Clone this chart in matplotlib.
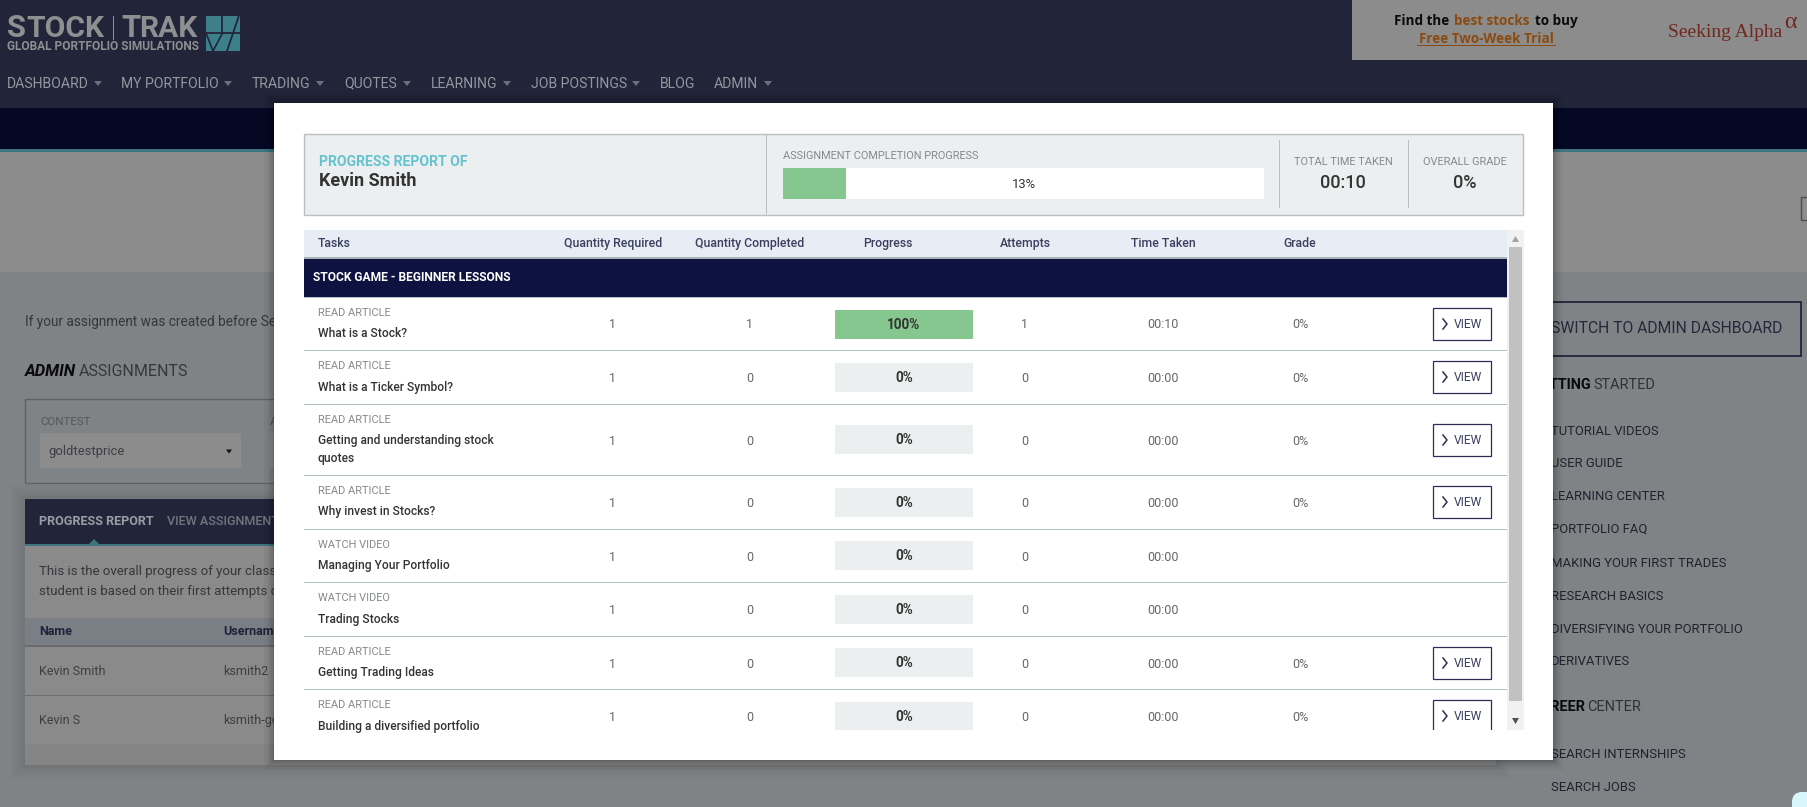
import matplotlib
matplotlib.use("Agg")
import matplotlib.pyplot as plt
from matplotlib.patches import Rectangle, Polygon, FancyBboxPatch

plt.rcParams['font.family'] = ['Roboto', 'DejaVu Sans']

W, H = 1808, 807

nav_items = ['DASHBOARD', 'MY PORTFOLIO', 'TRADING', 'QUOTES', 'LEARNING', 'JOB POSTINGS', 'BLOG', 'ADMIN']
columns = ['Tasks', 'Quantity Required', 'Quantity Completed', 'Progress', 'Attempts', 'Time Taken', 'Grade']
task_types = ['READ ARTICLE', 'READ ARTICLE', 'READ ARTICLE', 'READ ARTICLE',
              'WATCH VIDEO', 'WATCH VIDEO', 'READ ARTICLE', 'READ ARTICLE']
task_names = ['What is a Stock?', 'What is a Ticker Symbol?', 'Getting and understanding stock\nquotes',
              'Why invest in Stocks?', 'Managing Your Portfolio', 'Trading Stocks',
              'Getting Trading Ideas', 'Building a diversified portfolio']
qty_required = [1, 1, 1, 1, 1, 1, 1, 1]
qty_completed = [1, 0, 0, 0, 0, 0, 0, 0]
progress = [100, 0, 0, 0, 0, 0, 0, 0]
attempts = [1, 0, 0, 0, 0, 0, 0, 0]
time_taken = ['00:10', '00:00', '00:00', '00:00', '00:00', '00:00', '00:00', '00:00']
grades = ['0%', '0%', '0%', '0%', '', '', '0%', '0%']
overall_progress = 13
sidebar_links = ['TUTORIAL VIDEOS', 'USER GUIDE', 'LEARNING CENTER', 'PORTFOLIO FAQ', 'MAKING YOUR FIRST TRADES',
                 'RESEARCH BASICS', 'DIVERSIFYING YOUR PORTFOLIO', 'DERIVATIVES']

# layout, in screenshot pixels
nav_x = [7, 121, 252, 344, 431, 531, 660, 714]
caret_x = [98, 228, 320, 407, 507, 636, None, 768]
col_x = [318, 613, 750, 888, 1025, 1163, 1300]
row_bottoms = [350, 404, 475, 529, 582, 636, 689, 745]
type_y = [313, 366, 420, 491, 545, 598, 652, 705]
name_y = [333, 387, 440, 511, 565, 619, 672, 726]
value_y = [324, 378, 441, 503, 557, 610, 664, 717]
btn_y = [324, 377, 440, 502, 556, 609, 663, 716]
cell_y = [324, 377.5, 439.5, 502.5, 555.5, 609.5, 662.5, 716.5]
link_y = [431, 463, 496, 529, 563, 596, 629, 661]

NAVY = '#0d1240'
BAR = '#222539'
TEAL = '#3e7480'
GREEN = '#85c78f'
PANEL = '#ebeff0'
PAGE = '#808386'
CARD = '#8a8a8a'

fig = plt.figure(figsize=(W / 100, H / 100), dpi=100)
ax = fig.add_axes([0, 0, 1, 1])
ax.set_xlim(0, W)
ax.set_ylim(H, 0)
ax.axis('off')


def box(x0, y0, x1, y1, color, z=1, ec='none', lw=0, alpha=None, fill=True):
    p = Rectangle((x0, y0), x1 - x0, y1 - y0, facecolor=color if fill else 'none',
                  edgecolor=ec, linewidth=lw, zorder=z, alpha=alpha)
    ax.add_patch(p)
    return p


def txt(x, y, s, px, color, weight='normal', ha='left', z=3, **kw):
    return ax.text(x, y + 0.3, s, fontsize=px * 0.72, color=color, fontweight=weight,
                   ha=ha, va='center', zorder=z, **kw)


def caret(x, y, color, size=4, z=3):
    ax.add_patch(Polygon([(x - size, y - size / 2), (x + size, y - size / 2), (x, y + size / 2 + 1)],
                         facecolor=color, edgecolor='none', zorder=z))


# page behind the modal
box(0, 0, W, H, PAGE, z=0)
box(0, 0, W, 108, BAR)
box(0, 108, W, 149, '#050823')
box(0, 149, W, 152, TEAL)
box(0, 152, W, 272, '#8c8c8c')
box(1801, 197, W + 5, 220, '#8c8c8c', ec='#4a4c50', lw=1)

# logo
LOGO = '#8d8f90'
txt(7, 28, 'S', 31, LOGO, weight='bold')
txt(26, 29, 'TOCK', 30, LOGO, weight='bold')
box(113, 16, 114.5, 40, LOGO)
txt(121, 28, 'T', 31, LOGO, weight='bold')
txt(139, 29, 'RAK', 30, LOGO, weight='bold')
txt(7, 46.5, 'GLOBAL PORTFOLIO SIMULATIONS', 11.9, LOGO, weight='bold')
box(206, 16, 240, 51, '#3e7f8c')
ax.plot([206, 240], [32.5, 32.5], color=BAR, lw=1.3, zorder=2)
ax.plot([222.5, 222.5], [16, 32.5], color=BAR, lw=1.3, zorder=2)
ax.plot([238.5, 227], [17, 51], color=BAR, lw=1.3, zorder=2)
ax.plot([206, 213, 222.5], [33, 51, 33], color=BAR, lw=1.2, zorder=2)

for x, label, cx in zip(nav_x, nav_items, caret_x):
    txt(x, 83.5, label, 14, '#94979f')
    if cx is not None:
        caret(cx, 83, '#6b6e7b')

# ad
AD_FONT = ['Open Sans', 'DejaVu Sans']
box(1352, 0, W, 60, '#8c8c8c')
txt(1394, 21, 'Find the', 13.5, '#0a0a0a', weight='bold', family=AD_FONT)
txt(1454, 21, 'best stocks', 13.5, '#8a4a10', weight='bold', family=AD_FONT)
txt(1535, 21, 'to buy', 13.5, '#0a0a0a', weight='bold', family=AD_FONT)
txt(1486, 39, 'Free Two-Week Trial', 13.5, '#8a4a10', weight='bold', ha='center', family=AD_FONT)
box(1417, 45, 1556, 46, '#8a4a10')
txt(1668, 32, 'Seeking Alpha', 19.5, '#70281f', family=['Liberation Serif', 'DejaVu Serif'])
txt(1784, 22, 'α', 24, '#70281f', family=['Liberation Serif', 'DejaVu Serif'])

# left column of the page
txt(25, 322, 'If your assignment was created before Se', 13.6, '#35373a')
txt(25, 371, 'ADMIN', 16.5, '#0a0a0a', weight='bold', style='italic')
txt(79, 371, 'ASSIGNMENTS', 16, '#35373a')
box(25, 399, 300, 483, PAGE, ec='#5f6265', lw=1)
txt(40, 422, 'CONTEST', 11.5, '#55585c')
box(40, 433, 241, 468, '#8c8c8c')
txt(48, 451, 'goldtestprice', 13, '#3c3e42')
caret(229, 451, '#111111', size=3)
txt(270, 422, 'A', 11.5, '#55585c')
box(270, 433, 300, 468, '#8c8c8c')

# progress card, with a faint shadow; it runs on behind the modal
card_right = 1496
for grow, a in zip([14, 10, 6, 3], [0.015, 0.02, 0.025, 0.03]):
    box(25 - grow, 499 - grow, card_right + grow, 765 + grow, '#000000', z=1, alpha=a)
box(25, 499, card_right, 544, BAR, z=2)
box(25, 544, card_right, 546, TEAL, z=2)
ax.add_patch(Polygon([(89, 544), (94, 539), (99, 544)], facecolor=TEAL, edgecolor='none', zorder=2))
txt(39, 521, 'PROGRESS REPORT', 12.6, '#9a9ca4', weight='bold')
txt(167, 521, 'VIEW ASSIGNMENT', 12.6, '#72747f', weight='medium')
box(25, 546, card_right, 765, '#858585', z=2)
box(25, 546, card_right, 744, CARD, z=2)
txt(39, 571, 'This is the overall progress of your class', 13.2, '#35373a')
txt(39, 591, 'student is based on their first attempts o', 13.2, '#35373a')
box(25, 618, card_right, 645, '#7a7f85', z=2)
box(25, 645, card_right, 647, '#696b6d', z=2)
txt(39, 631, 'Name', 12.5, '#20233a', weight='bold')
txt(223, 631, 'Username', 12.5, '#20233a', weight='bold')
txt(39, 671, 'Kevin Smith', 12.5, '#3c3e42')
txt(223, 671, 'ksmith2', 12.5, '#3c3e42')
box(25, 695, card_right, 696, '#6c6e70', z=2)
txt(39, 720, 'Kevin S', 12.5, '#3c3e42')
txt(223, 720, 'ksmith-gold', 12.5, '#3c3e42')

# right column of the page
box(1500, 302, 1801, 356, PAGE, ec='#1a1c38', lw=1.2)
txt(1551, 328, 'SWITCH TO ADMIN DASHBOARD', 15.8, '#25273a')
txt(1591, 385, 'GETTING', 14.5, '#0a0a0a', weight='bold', ha='right')
txt(1593, 385, 'STARTED', 14.5, '#2f3135')
for y, label in zip(link_y, sidebar_links):
    txt(1551, y, label, 13, '#20222e')
txt(1585, 707, 'CAREER', 14.5, '#0a0a0a', weight='bold', ha='right')
txt(1587, 707, 'CENTER', 14.5, '#2f3135')
txt(1551, 754, 'SEARCH INTERNSHIPS', 13, '#20222e')
txt(1551, 787, 'SEARCH JOBS', 13, '#20222e')
ax.add_patch(FancyBboxPatch((1798, 798), 20, 20, boxstyle='round,pad=6,rounding_size=10',
                            facecolor='#d8f6fb', edgecolor='none', zorder=2))

# modal with its shadow
for grow, a in zip([10, 7, 5, 3, 1], [0.03, 0.04, 0.05, 0.07, 0.09]):
    box(274 - grow, 103 - grow, 1553.5 + grow, 760 + grow, '#000000', z=4, alpha=a)
box(274, 103, 1553.5, 760, 'white', z=5)
Z = 6

# summary panel
box(304.5, 133.5, 1523.5, 214.5, PANEL, z=Z, ec='#b9bfc2', lw=1)
box(766, 134, 767, 214, '#b9bfc2', z=Z)
box(1279, 140, 1280, 208, '#b9bfc2', z=Z)
box(1408, 140, 1409, 208, '#b9bfc2', z=Z)
txt(319, 162, 'PROGRESS REPORT OF', 14, '#65c3d0', weight='bold', z=Z)
txt(319, 181, 'Kevin Smith', 18, '#333333', weight='bold', z=Z)
txt(783, 156, 'ASSIGNMENT COMPLETION PROGRESS', 11, '#858a8c', z=Z)
bar_x0, bar_x1 = 783, 1264
box(bar_x0, 168, bar_x1, 199, 'white', z=Z)
ax.barh(183.5, (bar_x1 - bar_x0) * overall_progress / 100, height=31, left=bar_x0, color=GREEN, zorder=Z + 1)
ax.set_xlim(0, W)
ax.set_ylim(H, 0)
txt((bar_x0 + bar_x1) / 2, 184, f'{overall_progress}%', 13, '#333333', ha='center', z=Z + 1)
txt(1343, 162, 'TOTAL TIME TAKEN', 11, '#858a8c', ha='center', z=Z)
txt(1343, 183, '00:10', 18, '#333333', ha='center', weight='medium', z=Z)
txt(1465, 162, 'OVERALL GRADE', 11, '#858a8c', ha='center', z=Z)
txt(1465, 183, '0%', 18, '#333333', ha='center', weight='medium', z=Z)

# table head
box(304, 230, 1507, 257, '#e6edf5', z=Z)
box(304, 257, 1507, 259, '#a9b0b6', z=Z)
box(304, 259, 1507, 297, NAVY, z=Z)
box(304, 297, 1507, 298, '#b4c2c4', z=Z)
for i, (x, label) in enumerate(zip(col_x, columns)):
    txt(x, 243, label, 12.2, '#3b3e5e', weight='medium', ha='left' if i == 0 else 'center', z=Z)
txt(313, 277.5, 'STOCK GAME - BEGINNER LESSONS', 12, 'white', weight='bold', z=Z)

# table body, cut off at the bottom of the scroll area
clip = Rectangle((304, 298), 1203, 432, transform=ax.transData)
for i in range(len(task_names)):
    if i < len(task_names) - 1:
        box(304, row_bottoms[i] - 0.5, 1507, row_bottoms[i] + 1, '#b4c2c4', z=Z)
    txt(col_x[0], type_y[i], task_types[i], 11, '#858a8c', z=Z)
    lines = task_names[i].split('\n')
    for k, line in enumerate(lines):
        t = txt(col_x[0], name_y[i] + 18 * k, line, 12, '#333333', weight='medium', z=Z)
        t.set_clip_path(clip)
    txt(613, value_y[i], str(qty_required[i]), 12.5, '#666666', ha='center', z=Z)
    txt(750, value_y[i], str(qty_completed[i]), 12.5, '#666666', ha='center', z=Z)
    cell = Rectangle((835, cell_y[i] - 14.5), 138, 29, facecolor=GREEN if progress[i] == 100 else PANEL,
                     edgecolor='none', zorder=Z)
    ax.add_patch(cell)
    cell.set_clip_path(clip)
    txt(904, cell_y[i] + 0.5, f'{progress[i]}%', 13.5, '#333333', weight='bold', ha='center', z=Z + 1)
    txt(1025, value_y[i], str(attempts[i]), 12.5, '#666666', ha='center', z=Z)
    txt(1163, value_y[i], time_taken[i], 12.5, '#666666', ha='center', z=Z)
    if grades[i]:
        txt(1300, value_y[i], grades[i], 12.5, '#666666', ha='center', z=Z)
        btn = Rectangle((1433.5, btn_y[i] - 16), 58, 32, facecolor='white', edgecolor='#2c2f55',
                        linewidth=0.9, zorder=Z)
        ax.add_patch(btn)
        btn.set_clip_path(clip)
        ax.plot([1443, 1447, 1443], [btn_y[i] - 5, btn_y[i], btn_y[i] + 5],
                color='#2c2f55', lw=1.1, zorder=Z + 1)
        txt(1454, btn_y[i] + 0.5, 'VIEW', 12, '#3b3e5e', z=Z + 1)

# scrollbar
box(1507, 230, 1524, 730, '#f1f1f1', z=Z)
box(1509, 247, 1522, 701, '#c1c1c1', z=Z + 1)
ax.add_patch(Polygon([(1512, 242), (1515.5, 236), (1519, 242)], facecolor='#a3a3a3', edgecolor='none', zorder=Z + 1))
ax.add_patch(Polygon([(1512, 718), (1519, 718), (1515.5, 724)], facecolor='#505050', edgecolor='none', zorder=Z + 1))

fig.savefig('out.png', dpi=100)
